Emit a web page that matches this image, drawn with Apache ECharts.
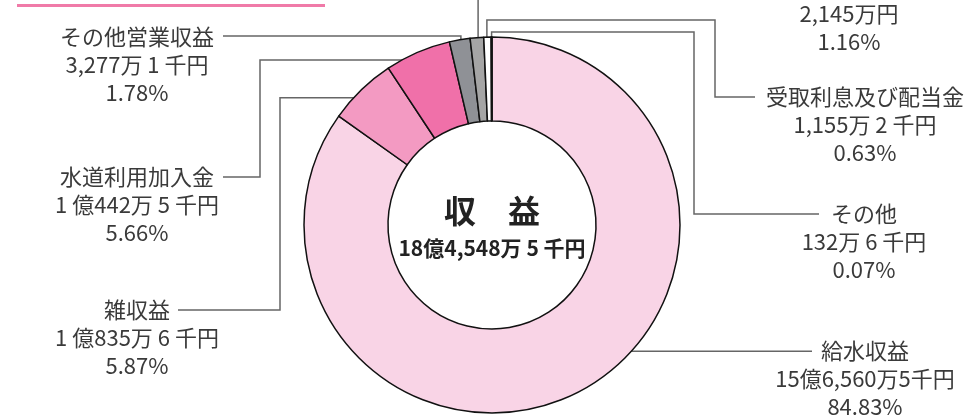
<!DOCTYPE html>
<html>
<head>
<meta charset="utf-8">
<title>収益</title>
<script src="https://cdn.jsdelivr.net/npm/echarts@6/dist/echarts.min.js"></script>
<style>
    html, body { margin: 0; padding: 0; background: #ffffff; }
    #char1 { width: 968px; height: 419px; }
</style>
</head>
<body>
<div id="char1"></div>
<script>
// 収益の内訳（単位：千円）
var names = ["給水収益", "雑収益", "水道利用加入金", "その他営業収益", "他会計補助金", "受取利息及び配当金", "その他"];
var values = [1565605, 108356, 104425, 32771, 21450, 11552, 1326];
var amountLabels = ["15億6,560万5千円", "1 億835万 6 千円", "1 億442万 5 千円", "3,277万 1 千円", "2,145万円", "1,155万 2 千円", "132万 6 千円"];
var centerTitle = "収　益";
var totalLabel = "18億4,548万 5 千円";

var colors = ["#f9d4e6", "#f39ac2", "#f070a9", "#8f9196", "#a5a5a5", "#ffffff", "#ffffff"];

// レイアウト
var cx = 492, cy = 225, rIn = 104, rOut = 188;
var lineH = 28;
var FONT = '"Noto Sans CJK JP", "Noto Sans", sans-serif';

// 引出線: t=扇形内の位置, r=半径, lineY=最初の水平線, bendX=折れ位置, endX=線の終点, textX/textY=ラベル1行目中心
var guides = [
    { t: 0.464, r: 161, lineY: null, bendX: null, endX: 812, textX: 865, textY: 351 },
    { t: 0.5, r: 177, lineY: null, bendX: 280, endX: 178, textX: 137, textY: 310 },
    { t: 0.56, r: 178, lineY: null, bendX: 260, endX: 223, textX: 137, textY: 177 },
    { t: 0.5, r: 181, lineY: 36, bendX: null, endX: 223, textX: 137, textY: 37 },
    { t: 0.53, r: 178, lineY: -40, bendX: null, endX: 700, textX: 849, textY: -14 },
    { t: 0.4, r: 182, lineY: 20, bendX: 715, endX: 755, textX: 865, textY: 97 },
    { t: 0.5, r: 182, lineY: 32, bendX: 694, endX: 819, textX: 864, textY: 214 }
];

function ready(fn) {
    if (document.readyState === "loading") document.addEventListener("DOMContentLoaded", fn);
    else fn();
}

ready(function () {
    char1();
});

function sliceAnchor(i) {
    var total = 0, before = 0;
    for (var k = 0; k < values.length; k++) {
        total += values[k];
        if (k < i) before += values[k];
    }
    var g = guides[i];
    var a = (before + values[i] * g.t) / total * 2 * Math.PI;
    return [cx + g.r * Math.sin(a), cy - g.r * Math.cos(a)];
}

function char1() {
    var myChart = echarts.init(document.getElementById("char1"));

    var data = names.map(function (n, i) {
        return { name: n, value: values[i], itemStyle: { color: colors[i] } };
    });

    var option = {
        animation: false,
        graphic: [
            {
                type: "rect",
                shape: { x: 17, y: 4, width: 308, height: 3 },
                style: { fill: "#f07aa8" }
            },
            {
                type: "text",
                x: cx,
                y: 211,
                style: {
                    text: centerTitle,
                    fontSize: 32,
                    fontWeight: "bold",
                    fontFamily: FONT,
                    fill: "#222222",
                    align: "center",
                    verticalAlign: "middle"
                },
                z: 10
            },
            {
                type: "text",
                x: cx,
                y: 248,
                style: {
                    text: totalLabel,
                    fontSize: 21,
                    fontWeight: "bold",
                    fontFamily: FONT,
                    fill: "#222222",
                    align: "center",
                    verticalAlign: "middle"
                },
                z: 10
            }
        ],
        series: [
            {
                name: "収益",
                type: "pie",
                center: [cx, cy],
                radius: [rIn, rOut],
                startAngle: 90,
                clockwise: true,
                avoidLabelOverlap: false,
                percentPrecision: 2,
                itemStyle: {
                    borderColor: "#111111",
                    borderWidth: 1.5
                },
                label: {
                    show: true,
                    position: "outside",
                    fontSize: 22,
                    lineHeight: lineH,
                    color: "#3a3a3a",
                    fontFamily: FONT,
                    formatter: function (p) {
                        return p.name + "\n" + amountLabels[p.dataIndex] + "\n" + p.percent.toFixed(2) + "%";
                    }
                },
                labelLine: {
                    show: true,
                    length: 10,
                    length2: 10,
                    lineStyle: { color: "#666666", width: 1.5 }
                },
                labelLayout: function (params) {
                    var i = params.dataIndex;
                    var g = guides[i];
                    var p0 = sliceAnchor(i);
                    var pts = [p0];
                    var y0 = p0[1];
                    if (g.lineY !== null) {
                        pts.push([p0[0], g.lineY]);
                        y0 = g.lineY;
                    }
                    if (g.bendX !== null) {
                        pts.push([g.bendX, y0]);
                        pts.push([g.bendX, g.textY]);
                        pts.push([g.endX, g.textY]);
                    } else {
                        pts.push([g.endX, y0]);
                    }
                    return {
                        x: g.textX,
                        y: g.textY - lineH / 2,
                        align: "center",
                        verticalAlign: "top",
                        labelLinePoints: pts
                    };
                },
                emphasis: { disabled: true },
                data: data
            }
        ]
    };

    myChart.setOption(option);
    window.addEventListener("resize", function () {
        myChart.resize();
    });
}
</script>
</body>
</html>
